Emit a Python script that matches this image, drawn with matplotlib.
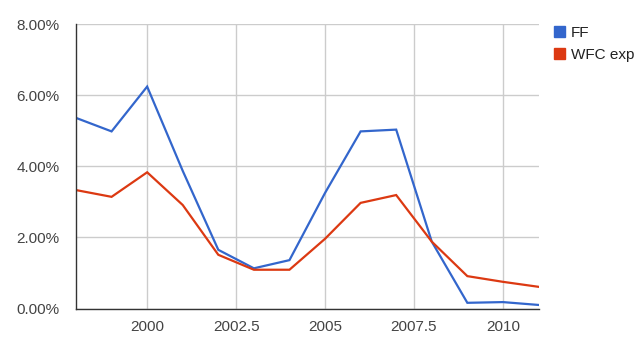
import matplotlib.pyplot as plt
from matplotlib.patches import Patch
from matplotlib.ticker import FuncFormatter

plt.rcParams['font.family'] = ['Liberation Sans', 'DejaVu Sans']

# yearly values, in percent
years = [1998, 1999, 2000, 2001, 2002, 2003, 2004, 2005, 2006, 2007, 2008, 2009, 2010, 2011]
ff = [5.36, 4.98, 6.24, 3.87, 1.65, 1.13, 1.36, 3.25, 4.98, 5.03, 1.88, 0.16, 0.18, 0.10]
wfc_exp = [3.33, 3.14, 3.83, 2.91, 1.51, 1.09, 1.09, 1.96, 2.97, 3.19, 1.88, 0.91, 0.75, 0.61]
series_names = ['FF', 'WFC exp']
series_colors = ['#3366cc', '#dc3912']
x_ticks = [2000, 2002.5, 2005, 2007.5, 2010]
y_ticks = [0, 2, 4, 6, 8]

fig = plt.figure(figsize=(6.42, 3.51), dpi=100)
W, H = 642, 351
ax = fig.add_axes([76 / W, 1 - 308.5 / H, (538.5 - 76) / W, (308.5 - 24) / H])

ax.plot(years, ff, color=series_colors[0], lw=1.6, solid_joinstyle='miter', zorder=3)
ax.plot(years, wfc_exp, color=series_colors[1], lw=1.6, solid_joinstyle='miter', zorder=4)

ax.set_xlim(1998, 2011)
ax.set_ylim(0, 8)
ax.set_xticks(x_ticks)
ax.set_xticklabels(['2000', '2002.5', '2005', '2007.5', '2010'])
ax.set_yticks(y_ticks)
ax.yaxis.set_major_formatter(FuncFormatter(lambda v, p: f'{v:.2f}%'))

ax.grid(True, color='#cccccc', lw=1)
ax.set_axisbelow(True)
for s in ['top', 'right']:
    ax.spines[s].set_visible(False)
for s in ['left', 'bottom']:
    ax.spines[s].set_color('#333333')
    ax.spines[s].set_linewidth(1)
    ax.spines[s].set_zorder(5)
ax.tick_params(length=0, labelsize=11, labelcolor='#444444')
ax.tick_params(axis='y', pad=12)
ax.tick_params(axis='x', pad=8)

handles = [Patch(facecolor=c, edgecolor=c) for c in series_colors]
fig.legend(handles, series_names, loc='upper left',
           bbox_to_anchor=(554 / W, 1 - 26 / H), frameon=False,
           handlelength=0.72, handleheight=0.72, handletextpad=0.4,
           labelspacing=0.5, fontsize=11, labelcolor='#222222',
           borderpad=0, borderaxespad=0)

fig.savefig('out.png', dpi=100)
